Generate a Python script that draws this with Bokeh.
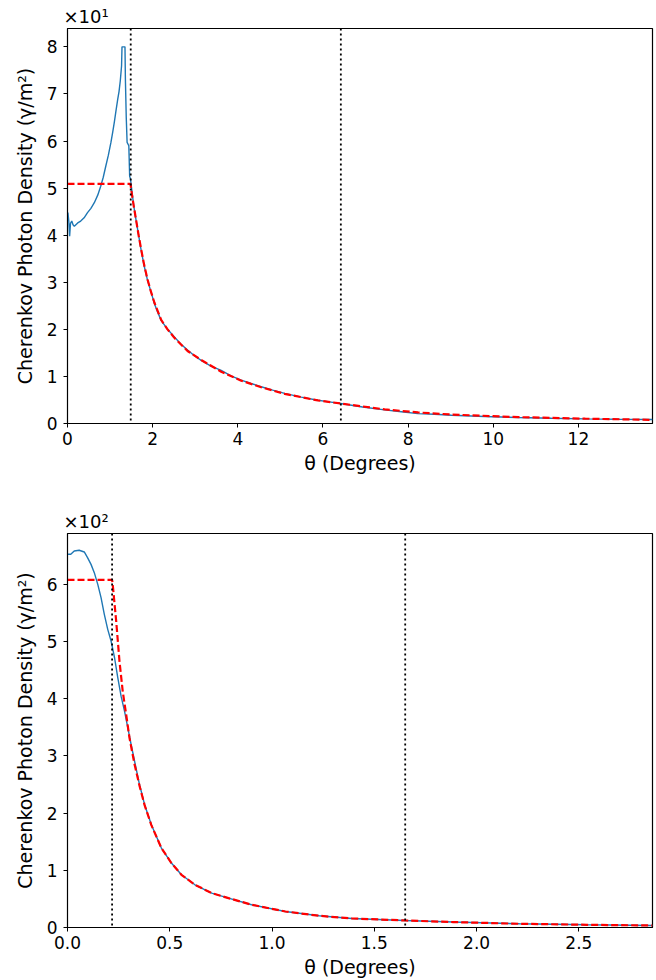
from bokeh.plotting import figure
from bokeh.layouts import column
from bokeh.models import FixedTicker, Span, Range1d, NumeralTickFormatter
from bokeh.embed import file_html
from bokeh.resources import INLINE

# ---------------- data: top panel ----------------
top_theta_sim = [0.00, 0.01, 0.03, 0.05, 0.07, 0.10, 0.13, 0.16, 0.24, 0.31, 0.39, 0.47, 0.55,
                 0.63, 0.71, 0.78, 0.84, 0.90, 0.96, 1.02, 1.06, 1.10, 1.14, 1.18, 1.21, 1.24,
                 1.27, 1.28, 1.35, 1.36, 1.38, 1.40, 1.44, 1.46, 1.48, 1.52, 1.56, 1.61, 1.67,
                 1.73, 1.80, 1.88, 1.96, 2.04, 2.12, 2.20, 2.35, 2.51, 2.66, 2.82, 2.98, 3.14,
                 3.37, 3.61, 3.84, 4.08, 4.31, 4.55, 4.82, 5.10, 5.49, 5.88, 6.15, 6.41, 6.93,
                 7.45, 7.84, 8.23, 8.62, 9.02, 9.80, 10.59, 11.37, 12.16, 12.95, 13.74]
top_density_sim = [44.5, 44.8, 43.0, 39.8, 42.5, 43.0, 42.2, 41.9, 42.6, 43.0, 43.7, 44.8, 45.7,
                   46.9, 48.5, 50.4, 52.3, 54.7, 57.0, 59.7, 61.8, 64.0, 66.5, 68.9, 70.5, 72.8,
                   76.0, 80.0, 80.0, 73.0, 65.0, 59.7, 59.0, 52.5, 51.9, 48.8, 46.0, 43.2, 40.0,
                   36.8, 33.5, 30.4, 28.0, 25.5, 23.6, 21.9, 20.0, 18.4, 16.9, 15.6, 14.4, 13.4,
                   12.2, 11.3, 10.1, 9.2, 8.5, 7.8, 7.1, 6.4, 5.6, 4.95, 4.6, 4.25, 3.5,
                   2.9, 2.5, 2.1, 1.95, 1.76, 1.5, 1.27, 1.1, 0.98, 0.9, 0.85]
top_theta_model = [0.0, 1.48, 1.50, 1.55, 1.61, 1.67, 1.73, 1.80, 1.88, 1.96, 2.04, 2.20, 2.35,
                   2.51, 2.82, 3.14, 3.61, 4.08, 4.55, 5.10, 5.88, 6.41, 7.45, 8.23, 9.02,
                   10.59, 12.16, 13.74]
top_density_model = [50.9, 50.9, 49.5, 46.5, 43.3, 40.0, 37.0, 33.7, 30.6, 28.0, 25.7, 22.0, 20.0,
                     18.2, 15.4, 13.5, 11.0, 9.1, 7.7, 6.3, 4.9, 4.25, 3.0, 2.35, 1.9,
                     1.35, 1.02, 0.78]
top_vlines = [1.485, 6.42]
top_xticks = [0, 2, 4, 6, 8, 10, 12]
top_yticks = [0, 10, 20, 30, 40, 50, 60, 70, 80]
top_ytick_labels = ["0", "1", "2", "3", "4", "5", "6", "7", "8"]

# ---------------- data: bottom panel ----------------
bot_theta_sim = [0.0, 0.016, 0.033, 0.057, 0.082, 0.098, 0.115, 0.131, 0.148, 0.164, 0.18,
                 0.197, 0.213, 0.23, 0.246, 0.262, 0.279, 0.295, 0.311, 0.328, 0.352, 0.377,
                 0.41, 0.459, 0.508, 0.557, 0.623, 0.705, 0.787, 0.90, 1.065, 1.23, 1.39,
                 1.65, 1.885, 2.21, 2.54, 2.86]
bot_density_sim = [652.7, 652.7, 658.5, 659.7, 656.7, 646.8, 635.0, 620.5, 600.0, 576.8, 547.6,
                   521.0, 501.0, 471.7, 436.7, 404.6, 378.0, 349.0, 320.0, 290.7, 250.0, 214.8,
                   179.8, 139.0, 112.7, 92.2, 74.7, 60.1, 51.4, 39.8, 28.0, 20.5, 15.8,
                   12.3, 9.5, 6.5, 4.7, 3.5]
bot_theta_model = [0.0, 0.218, 0.221, 0.238, 0.254, 0.270, 0.287, 0.303, 0.328, 0.352, 0.377,
                   0.41, 0.459, 0.508, 0.557, 0.623, 0.705, 0.787, 0.90, 1.065, 1.23, 1.39,
                   1.65, 1.885, 2.21, 2.54, 2.86]
bot_density_model = [608.0, 608.0, 600.0, 536.0, 466.0, 413.0, 372.0, 331.6, 285.0, 248.0, 214.0,
                     179.0, 139.0, 112.7, 92.2, 74.7, 60.1, 51.4, 39.8, 28.0, 20.5, 15.8,
                     12.3, 9.5, 6.5, 4.7, 3.5]
bot_vlines = [0.218, 1.651]
bot_xticks = [0.0, 0.5, 1.0, 1.5, 2.0, 2.5]
bot_yticks = [0, 100, 200, 300, 400, 500, 600]
bot_ytick_labels = ["0", "1", "2", "3", "4", "5", "6"]

FONT = "DejaVu Sans"
BLUE = "#1f77b4"
RED = "#ff0000"


def make_panel(xs, ys, xm, ym, vlines, xticks, yticks, ylabels, xmax, ymax, exp_text,
               height, border_top, border_bottom, xfmt=None):
    p = figure(width=656, height=height, output_backend="svg", toolbar_location=None,
               x_range=Range1d(0, xmax), y_range=Range1d(0, ymax),
               min_border_left=67, min_border_right=4,
               min_border_top=border_top, min_border_bottom=border_bottom)
    p.title.text = exp_text
    p.title.align = "left"
    p.title.text_font = FONT
    p.title.text_font_size = "18px"
    p.title.text_font_style = "normal"
    p.title.text_color = "black"
    p.title.standoff = 3
    p.title.offset = -4
    p.outline_line_color = "black"
    p.outline_line_width = 1.2
    p.outline_line_alpha = 1
    p.xgrid.visible = False
    p.ygrid.visible = False
    p.background_fill_color = "white"
    p.border_fill_color = "white"

    p.line(xs, ys, line_color=BLUE, line_width=1.4)
    p.line(xm, ym, line_color=RED, line_width=2.2, line_dash="7 3")
    for v in vlines:
        p.add_layout(Span(location=v, dimension="height", line_color="black",
                          line_width=1.8, line_dash="2 3"))

    p.xaxis.ticker = FixedTicker(ticks=xticks)
    if xfmt is not None:
        p.xaxis.formatter = xfmt
    p.yaxis.ticker = FixedTicker(ticks=yticks)
    p.yaxis.major_label_overrides = {t: l for t, l in zip(yticks, ylabels)}
    p.xaxis.axis_label = "θ (Degrees)"
    p.yaxis.axis_label = "Cherenkov Photon Density (γ/m²)"
    for ax in (p.xaxis, p.yaxis):
        ax.axis_label_text_font = FONT
        ax.axis_label_text_font_size = "19px"
        ax.axis_label_text_font_style = "normal"
        ax.axis_label_text_color = "black"
        ax.major_label_text_font = FONT
        ax.major_label_text_font_size = "17px"
        ax.major_label_text_color = "black"
        ax.axis_line_color = "black"
        ax.major_tick_line_color = "black"
        ax.major_tick_out = 4
        ax.major_tick_in = 0
        ax.minor_tick_line_color = None
    p.yaxis.major_label_standoff = 6
    p.yaxis.axis_label_standoff = 8
    p.xaxis.major_label_standoff = 4
    p.xaxis.axis_label_standoff = 4
    return p


p1 = make_panel(top_theta_sim, top_density_sim, top_theta_model, top_density_model, top_vlines,
                top_xticks, top_yticks, top_ytick_labels, 13.74, 83.9, "×10¹",
                height=490, border_top=28, border_bottom=67)
p2 = make_panel(bot_theta_sim, bot_density_sim, bot_theta_model, bot_density_model, bot_vlines,
                bot_xticks, bot_yticks, bot_ytick_labels, 2.86, 689, "×10²",
                height=490, border_top=43, border_bottom=52,
                xfmt=NumeralTickFormatter(format="0.0"))

layout = column(p1, p2, spacing=0)
open("out.html", "w").write(file_html(layout, INLINE))
